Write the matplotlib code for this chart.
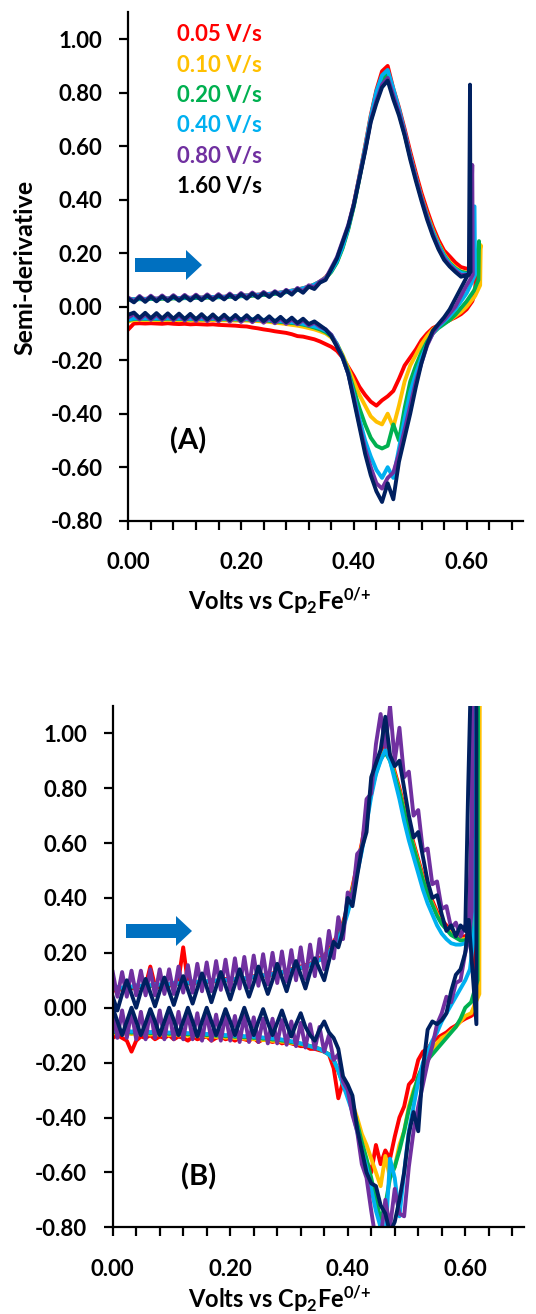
import matplotlib
matplotlib.use('Agg')
import matplotlib.pyplot as plt
import matplotlib.patches as mpatches
from matplotlib.ticker import FixedLocator, MultipleLocator, FormatStrFormatter

plt.rcParams['font.family'] = 'Lato'
plt.rcParams['font.weight'] = 'bold'
plt.rcParams['mathtext.fontset'] = 'custom'
plt.rcParams['mathtext.rm'] = 'Lato:bold'
plt.rcParams['mathtext.default'] = 'rm'

# ---------------------------------------------------------------- data
RATES = ['0.05 V/s', '0.10 V/s', '0.20 V/s', '0.40 V/s', '0.80 V/s', '1.60 V/s']
LINE_COLORS = ['#FF0000', '#FFC000', '#00B050', '#00B0F0', '#7030A0', '#002060']
TEXT_COLORS = ['#FF0000', '#FFC000', '#00B050', '#00B0F0', '#7030A0', '#000000']

# panel A: potential grid (V), forward scan and reverse scan (both listed low -> high V)
VOLTS_A = [0.00, 0.01, 0.02, 0.03, 0.04, 0.05, 0.06, 0.07, 0.08, 0.09,
           0.10, 0.11, 0.12, 0.13, 0.14, 0.15, 0.16, 0.17, 0.18, 0.19,
           0.20, 0.21, 0.22, 0.23, 0.24, 0.25, 0.26, 0.27, 0.28, 0.29,
           0.30, 0.31, 0.32, 0.33, 0.34, 0.35, 0.36, 0.37, 0.38, 0.39,
           0.40, 0.41, 0.42, 0.43, 0.44, 0.45, 0.46, 0.47, 0.48, 0.49,
           0.50, 0.51, 0.52, 0.53, 0.54, 0.55, 0.56, 0.57, 0.58, 0.59, 0.60]

A_FWD_RED = [0.030, 0.028, 0.030, 0.029, 0.031, 0.030, 0.032, 0.031, 0.033, 0.032,
             0.034, 0.033, 0.035, 0.034, 0.036, 0.036, 0.037, 0.037, 0.039, 0.039,
             0.041, 0.042, 0.043, 0.045, 0.046, 0.048, 0.050, 0.053, 0.056, 0.060,
             0.064, 0.069, 0.075, 0.083, 0.094, 0.110, 0.135, 0.170, 0.225, 0.295,
             0.385, 0.490, 0.600, 0.715, 0.810, 0.880, 0.900, 0.815, 0.745, 0.665,
             0.580, 0.500, 0.425, 0.360, 0.300, 0.250, 0.210, 0.188, 0.165, 0.148, 0.142]
A_FWD_YEL = [0.028, 0.027, 0.029, 0.028, 0.030, 0.029, 0.031, 0.030, 0.032, 0.031,
             0.033, 0.032, 0.034, 0.033, 0.035, 0.035, 0.036, 0.036, 0.038, 0.038,
             0.040, 0.041, 0.042, 0.044, 0.045, 0.047, 0.049, 0.052, 0.055, 0.059,
             0.063, 0.068, 0.074, 0.082, 0.093, 0.108, 0.132, 0.168, 0.222, 0.292,
             0.380, 0.485, 0.592, 0.705, 0.795, 0.860, 0.875, 0.800, 0.730, 0.650,
             0.565, 0.485, 0.410, 0.345, 0.287, 0.237, 0.197, 0.167, 0.147, 0.132, 0.127]
A_FWD_GRN = [0.027, 0.026, 0.028, 0.027, 0.029, 0.028, 0.030, 0.029, 0.031, 0.030,
             0.032, 0.031, 0.033, 0.032, 0.034, 0.034, 0.035, 0.035, 0.037, 0.037,
             0.039, 0.040, 0.041, 0.043, 0.044, 0.046, 0.048, 0.051, 0.054, 0.058,
             0.062, 0.067, 0.073, 0.081, 0.092, 0.106, 0.130, 0.165, 0.218, 0.288,
             0.375, 0.480, 0.588, 0.700, 0.790, 0.850, 0.868, 0.795, 0.725, 0.645,
             0.560, 0.480, 0.405, 0.340, 0.282, 0.233, 0.193, 0.163, 0.143, 0.130, 0.126]
A_FWD_CYN = [0.029, 0.028, 0.030, 0.029, 0.031, 0.030, 0.032, 0.031, 0.033, 0.032,
             0.034, 0.033, 0.035, 0.034, 0.036, 0.036, 0.037, 0.037, 0.039, 0.039,
             0.041, 0.042, 0.043, 0.045, 0.046, 0.048, 0.050, 0.053, 0.056, 0.060,
             0.064, 0.069, 0.075, 0.083, 0.094, 0.108, 0.134, 0.170, 0.224, 0.294,
             0.382, 0.488, 0.596, 0.710, 0.805, 0.865, 0.885, 0.815, 0.740, 0.655,
             0.565, 0.482, 0.405, 0.338, 0.280, 0.230, 0.190, 0.160, 0.140, 0.126, 0.122]
A_FWD_PUR = [0.034, 0.020, 0.040, 0.022, 0.041, 0.024, 0.042, 0.025, 0.043, 0.026,
             0.044, 0.027, 0.045, 0.028, 0.046, 0.029, 0.047, 0.030, 0.049, 0.032,
             0.051, 0.034, 0.053, 0.037, 0.055, 0.040, 0.058, 0.044, 0.063, 0.049,
             0.070, 0.057, 0.080, 0.072, 0.095, 0.105, 0.145, 0.185, 0.245, 0.305,
             0.385, 0.485, 0.585, 0.695, 0.770, 0.830, 0.855, 0.790, 0.725, 0.650,
             0.560, 0.480, 0.405, 0.335, 0.272, 0.222, 0.182, 0.155, 0.135, 0.118, 0.120]
A_FWD_NAV = [0.030, 0.016, 0.036, 0.018, 0.037, 0.020, 0.038, 0.021, 0.039, 0.022,
             0.040, 0.023, 0.041, 0.024, 0.042, 0.025, 0.043, 0.027, 0.045, 0.028,
             0.047, 0.030, 0.049, 0.033, 0.051, 0.036, 0.055, 0.040, 0.060, 0.045,
             0.066, 0.052, 0.075, 0.066, 0.090, 0.100, 0.140, 0.180, 0.240, 0.300,
             0.380, 0.480, 0.580, 0.690, 0.760, 0.820, 0.845, 0.775, 0.715, 0.640,
             0.550, 0.470, 0.395, 0.325, 0.265, 0.215, 0.175, 0.150, 0.130, 0.112, 0.118]

A_REV_RED = [-0.085, -0.063, -0.062, -0.063, -0.062, -0.063, -0.064, -0.062, -0.064, -0.065,
             -0.064, -0.066, -0.065, -0.066, -0.067, -0.066, -0.068, -0.069, -0.070, -0.071,
             -0.073, -0.074, -0.078, -0.081, -0.085, -0.088, -0.092, -0.095, -0.098, -0.103,
             -0.110, -0.112, -0.117, -0.122, -0.130, -0.140, -0.150, -0.165, -0.190, -0.225,
             -0.260, -0.300, -0.330, -0.355, -0.370, -0.350, -0.335, -0.315, -0.270, -0.220,
             -0.190, -0.160, -0.125, -0.100, -0.080, -0.070, -0.060, -0.050, -0.040, -0.028, -0.010]
A_REV_YEL = [-0.055, -0.050, -0.049, -0.050, -0.049, -0.050, -0.050, -0.049, -0.050, -0.050,
             -0.050, -0.051, -0.050, -0.051, -0.051, -0.050, -0.051, -0.051, -0.051, -0.052,
             -0.052, -0.052, -0.053, -0.054, -0.055, -0.057, -0.060, -0.062, -0.065, -0.068,
             -0.071, -0.075, -0.080, -0.085, -0.092, -0.100, -0.115, -0.140, -0.180, -0.230,
             -0.280, -0.330, -0.370, -0.410, -0.430, -0.440, -0.400, -0.450, -0.370, -0.280,
             -0.220, -0.180, -0.140, -0.110, -0.085, -0.070, -0.060, -0.050, -0.035, -0.020, 0.000]
A_REV_GRN = [-0.050, -0.046, -0.045, -0.046, -0.045, -0.046, -0.046, -0.045, -0.046, -0.046,
             -0.046, -0.047, -0.046, -0.047, -0.047, -0.046, -0.047, -0.047, -0.047, -0.048,
             -0.048, -0.048, -0.049, -0.050, -0.051, -0.053, -0.055, -0.057, -0.059, -0.061,
             -0.063, -0.067, -0.072, -0.078, -0.085, -0.095, -0.110, -0.140, -0.185, -0.240,
             -0.310, -0.380, -0.440, -0.490, -0.520, -0.530, -0.520, -0.440, -0.500, -0.380,
             -0.280, -0.220, -0.170, -0.130, -0.100, -0.080, -0.065, -0.050, -0.030, -0.005, 0.020]
A_REV_CYN = [-0.048, -0.044, -0.043, -0.044, -0.043, -0.044, -0.044, -0.043, -0.044, -0.044,
             -0.044, -0.045, -0.044, -0.045, -0.045, -0.044, -0.045, -0.045, -0.045, -0.046,
             -0.046, -0.046, -0.047, -0.048, -0.049, -0.050, -0.052, -0.054, -0.056, -0.058,
             -0.060, -0.064, -0.069, -0.074, -0.080, -0.090, -0.105, -0.140, -0.190, -0.250,
             -0.330, -0.420, -0.500, -0.560, -0.610, -0.640, -0.600, -0.640, -0.530, -0.420,
             -0.320, -0.250, -0.190, -0.140, -0.100, -0.075, -0.055, -0.035, -0.010, 0.020, 0.050]
A_REV_PUR = [-0.040, -0.028, -0.048, -0.029, -0.049, -0.030, -0.050, -0.031, -0.051, -0.032,
             -0.052, -0.033, -0.053, -0.034, -0.054, -0.035, -0.055, -0.036, -0.056, -0.037,
             -0.057, -0.038, -0.058, -0.040, -0.060, -0.042, -0.062, -0.044, -0.064, -0.047,
             -0.066, -0.050, -0.070, -0.060, -0.075, -0.085, -0.105, -0.145, -0.190, -0.250,
             -0.340, -0.440, -0.530, -0.600, -0.660, -0.680, -0.640, -0.620, -0.550, -0.460,
             -0.370, -0.280, -0.210, -0.145, -0.100, -0.070, -0.050, -0.025, 0.000, 0.040, 0.080]
A_REV_NAV = [-0.030, -0.022, -0.042, -0.023, -0.043, -0.024, -0.044, -0.025, -0.045, -0.026,
             -0.046, -0.027, -0.047, -0.028, -0.048, -0.029, -0.049, -0.030, -0.050, -0.031,
             -0.051, -0.032, -0.052, -0.034, -0.054, -0.036, -0.056, -0.038, -0.058, -0.041,
             -0.061, -0.045, -0.065, -0.055, -0.070, -0.085, -0.110, -0.150, -0.190, -0.250,
             -0.350, -0.450, -0.550, -0.630, -0.690, -0.730, -0.660, -0.720, -0.580, -0.490,
             -0.400, -0.300, -0.210, -0.140, -0.090, -0.065, -0.040, -0.010, 0.030, 0.070, 0.110]

# switching-potential excursions beyond 0.60 V (forward end -> reverse start)
A_TURN_X = [[0.610, 0.617, 0.615, 0.610],
            [0.610, 0.620, 0.625, 0.624, 0.615],
            [0.610, 0.618, 0.622, 0.621, 0.613],
            [0.608, 0.614, 0.615, 0.609],
            [0.606, 0.610, 0.611, 0.606],
            [0.604, 0.606, 0.607, 0.603]]
A_TURN_Y = [[0.140, 0.170, 0.050, 0.020],
            [0.130, 0.170, 0.230, 0.080, 0.040],
            [0.130, 0.170, 0.245, 0.100, 0.060],
            [0.125, 0.375, 0.120, 0.090],
            [0.120, 0.530, 0.120, 0.100],
            [0.120, 0.830, 0.130, 0.120]]

# panel B: potential grid in mV
VOLTS_B_MV = [0, 8, 16, 24, 32, 40, 48, 56, 64, 72, 80, 88, 96, 104, 112, 120, 128, 136, 144, 152,
              160, 168, 176, 184, 192, 200, 208, 216, 224, 232, 240, 248, 256, 264, 272, 280, 288, 296,
              304, 312, 320, 328, 336, 344, 352, 360, 368, 376, 384, 392, 400, 408, 416, 424, 432, 440,
              448, 456, 464, 472, 480, 488, 496, 504, 512, 520, 528, 536, 544, 552, 560, 568, 576, 584,
              592, 600]

B_FWD_RED = [0.06, 0.07, 0.065, 0.08, 0.07, 0.075, 0.075, 0.08, 0.15, 0.08,
             0.075, 0.085, 0.08, 0.085, 0.10, 0.22, 0.09, 0.085, 0.095, 0.09,
             0.095, 0.10, 0.095, 0.10, 0.105, 0.10, 0.105, 0.11, 0.105, 0.11,
             0.115, 0.115, 0.12, 0.12, 0.125, 0.13, 0.13, 0.135, 0.14, 0.145,
             0.15, 0.155, 0.16, 0.17, 0.18, 0.19, 0.21, 0.24, 0.27, 0.31,
             0.37, 0.44, 0.52, 0.60, 0.70, 0.80, 0.87, 0.92, 0.96, 0.92,
             0.86, 0.80, 0.73, 0.66, 0.60, 0.54, 0.48, 0.43, 0.39, 0.35,
             0.32, 0.30, 0.28, 0.27, 0.26, 0.26]
B_FWD_YEL = [0.07, 0.075, 0.07, 0.08, 0.075, 0.08, 0.078, 0.082, 0.08, 0.085,
             0.082, 0.087, 0.085, 0.09, 0.088, 0.092, 0.09, 0.095, 0.093, 0.097,
             0.095, 0.10, 0.098, 0.102, 0.10, 0.105, 0.103, 0.108, 0.106, 0.11,
             0.112, 0.115, 0.117, 0.12, 0.122, 0.125, 0.128, 0.132, 0.136, 0.14,
             0.145, 0.15, 0.156, 0.165, 0.175, 0.185, 0.205, 0.23, 0.26, 0.30,
             0.36, 0.43, 0.51, 0.59, 0.69, 0.79, 0.86, 0.91, 0.94, 0.91,
             0.85, 0.79, 0.72, 0.65, 0.59, 0.53, 0.47, 0.42, 0.38, 0.34,
             0.31, 0.29, 0.27, 0.26, 0.25, 0.25]
B_FWD_GRN = [0.068, 0.072, 0.07, 0.078, 0.074, 0.079, 0.077, 0.081, 0.079, 0.084,
             0.081, 0.086, 0.084, 0.089, 0.087, 0.091, 0.089, 0.094, 0.092, 0.096,
             0.094, 0.099, 0.097, 0.101, 0.099, 0.104, 0.102, 0.107, 0.105, 0.109,
             0.111, 0.114, 0.116, 0.119, 0.121, 0.124, 0.127, 0.131, 0.135, 0.139,
             0.144, 0.149, 0.155, 0.164, 0.174, 0.184, 0.203, 0.228, 0.258, 0.298,
             0.355, 0.425, 0.505, 0.585, 0.685, 0.785, 0.855, 0.905, 0.93, 0.90,
             0.845, 0.785, 0.715, 0.645, 0.585, 0.525, 0.465, 0.415, 0.375, 0.335,
             0.305, 0.285, 0.265, 0.255, 0.245, 0.245]
B_FWD_CYN = [0.072, 0.076, 0.073, 0.08, 0.077, 0.082, 0.079, 0.084, 0.082, 0.086,
             0.084, 0.088, 0.086, 0.091, 0.089, 0.093, 0.091, 0.096, 0.094, 0.098,
             0.096, 0.10, 0.099, 0.103, 0.101, 0.106, 0.104, 0.108, 0.107, 0.111,
             0.113, 0.116, 0.118, 0.121, 0.123, 0.126, 0.129, 0.133, 0.137, 0.141,
             0.146, 0.151, 0.157, 0.165, 0.174, 0.183, 0.20, 0.222, 0.25, 0.29,
             0.345, 0.41, 0.49, 0.57, 0.67, 0.77, 0.85, 0.90, 0.94, 0.90,
             0.83, 0.76, 0.68, 0.61, 0.55, 0.49, 0.43, 0.38, 0.34, 0.30,
             0.27, 0.25, 0.235, 0.23, 0.23, 0.235]
B_FWD_PUR = [0.13, 0.04, 0.13, 0.04, 0.135, 0.045, 0.135, 0.045, 0.14, 0.045,
             0.14, 0.05, 0.14, 0.05, 0.15, 0.055, 0.155, 0.055, 0.16, 0.06,
             0.165, 0.06, 0.17, 0.065, 0.175, 0.065, 0.18, 0.07, 0.185, 0.075,
             0.19, 0.08, 0.195, 0.085, 0.20, 0.09, 0.205, 0.095, 0.21, 0.10,
             0.22, 0.105, 0.23, 0.115, 0.25, 0.14, 0.28, 0.18, 0.33, 0.25,
             0.42, 0.40, 0.56, 0.58, 0.76, 0.78, 0.96, 1.07, 0.95, 1.10,
             0.90, 1.02, 0.84, 0.86, 0.70, 0.72, 0.57, 0.58, 0.45, 0.46,
             0.36, 0.37, 0.29, 0.31, 0.26, 0.30]
B_FWD_NAV = [0.04, -0.01, 0.05, 0.10, 0.05, 0.00, 0.06, 0.105, 0.055, 0.005,
             0.06, 0.11, 0.06, 0.01, 0.065, 0.115, 0.065, 0.015, 0.07, 0.125,
             0.075, 0.02, 0.075, 0.13, 0.08, 0.03, 0.085, 0.14, 0.09, 0.04,
             0.09, 0.15, 0.10, 0.05, 0.10, 0.16, 0.11, 0.06, 0.12, 0.17,
             0.12, 0.07, 0.13, 0.18, 0.14, 0.10, 0.17, 0.24, 0.22, 0.28,
             0.40, 0.37, 0.48, 0.58, 0.64, 0.84, 0.89, 0.94, 1.06, 0.92,
             0.88, 0.90, 0.80, 0.70, 0.62, 0.64, 0.55, 0.46, 0.40, 0.41,
             0.34, 0.28, 0.30, 0.26, 0.30, 0.28]

B_REV_RED = [-0.11, -0.10, -0.11, -0.12, -0.16, -0.12, -0.105, -0.11, -0.10, -0.115,
             -0.105, -0.11, -0.10, -0.115, -0.105, -0.11, -0.12, -0.105, -0.115, -0.11,
             -0.105, -0.12, -0.11, -0.105, -0.115, -0.11, -0.12, -0.11, -0.115, -0.12,
             -0.11, -0.125, -0.115, -0.12, -0.125, -0.12, -0.13, -0.125, -0.13, -0.135,
             -0.14, -0.14, -0.15, -0.15, -0.155, -0.16, -0.17, -0.22, -0.33, -0.27,
             -0.31, -0.38, -0.42, -0.50, -0.56, -0.60, -0.50, -0.57, -0.52, -0.55,
             -0.47, -0.40, -0.36, -0.28, -0.26, -0.19, -0.16, -0.15, -0.125, -0.11,
             -0.10, -0.09, -0.075, -0.065, -0.05, -0.04]
B_REV_YEL = [-0.095, -0.09, -0.095, -0.092, -0.096, -0.093, -0.097, -0.094, -0.098, -0.095,
             -0.099, -0.096, -0.10, -0.097, -0.101, -0.098, -0.102, -0.10, -0.104, -0.101,
             -0.105, -0.103, -0.107, -0.105, -0.109, -0.107, -0.111, -0.109, -0.113, -0.111,
             -0.115, -0.114, -0.118, -0.117, -0.121, -0.12, -0.124, -0.124, -0.128, -0.13,
             -0.133, -0.136, -0.14, -0.145, -0.15, -0.16, -0.17, -0.19, -0.23, -0.27,
             -0.31, -0.35, -0.40, -0.46, -0.50, -0.55, -0.60, -0.65, -0.54, -0.62,
             -0.58, -0.50, -0.45, -0.36, -0.30, -0.26, -0.21, -0.17, -0.15, -0.13,
             -0.11, -0.10, -0.085, -0.07, -0.05, -0.03]
B_REV_GRN = [-0.09, -0.086, -0.09, -0.087, -0.091, -0.088, -0.092, -0.089, -0.093, -0.09,
             -0.094, -0.091, -0.095, -0.092, -0.096, -0.093, -0.097, -0.095, -0.099, -0.096,
             -0.10, -0.098, -0.102, -0.10, -0.104, -0.102, -0.106, -0.104, -0.108, -0.106,
             -0.11, -0.109, -0.113, -0.112, -0.116, -0.116, -0.12, -0.121, -0.125, -0.128,
             -0.131, -0.135, -0.14, -0.145, -0.15, -0.16, -0.17, -0.19, -0.23, -0.28,
             -0.32, -0.36, -0.42, -0.49, -0.55, -0.62, -0.70, -0.77, -0.72, -0.62,
             -0.58, -0.52, -0.45, -0.37, -0.31, -0.25, -0.21, -0.19, -0.17, -0.15,
             -0.13, -0.11, -0.09, -0.07, -0.04, 0.00]
B_REV_CYN = [-0.085, -0.082, -0.086, -0.083, -0.087, -0.084, -0.088, -0.085, -0.089, -0.086,
             -0.09, -0.087, -0.091, -0.088, -0.092, -0.089, -0.093, -0.091, -0.095, -0.092,
             -0.096, -0.094, -0.098, -0.096, -0.10, -0.098, -0.102, -0.10, -0.104, -0.102,
             -0.106, -0.105, -0.109, -0.108, -0.112, -0.112, -0.116, -0.118, -0.122, -0.126,
             -0.13, -0.134, -0.14, -0.145, -0.15, -0.16, -0.17, -0.19, -0.23, -0.28,
             -0.33, -0.38, -0.45, -0.52, -0.58, -0.66, -0.74, -0.80, -0.84, -0.55,
             -0.62, -0.76, -0.60, -0.45, -0.36, -0.27, -0.20, -0.16, -0.12, -0.09,
             -0.05, -0.02, 0.01, 0.04, 0.07, 0.10]
B_REV_PUR = [-0.01, -0.11, -0.01, -0.11, -0.015, -0.115, -0.015, -0.115, -0.01, -0.11,
             -0.01, -0.115, -0.015, -0.115, -0.015, -0.115, -0.02, -0.115, -0.02, -0.12,
             -0.02, -0.12, -0.025, -0.12, -0.025, -0.12, -0.03, -0.125, -0.03, -0.125,
             -0.035, -0.125, -0.04, -0.13, -0.04, -0.13, -0.045, -0.135, -0.05, -0.14,
             -0.055, -0.145, -0.06, -0.15, -0.07, -0.16, -0.10, -0.19, -0.17, -0.27,
             -0.30, -0.39, -0.45, -0.57, -0.62, -0.74, -0.85, -0.84, -0.70, -0.80,
             -0.66, -0.75, -0.76, -0.58, -0.45, -0.36, -0.28, -0.20, -0.14, -0.06,
             -0.02, 0.04, 0.02, 0.09, 0.10, 0.20]
B_REV_NAV = [0.00, -0.05, -0.10, -0.05, 0.00, -0.05, -0.10, -0.055, -0.005, -0.05,
             -0.10, -0.05, 0.00, -0.045, -0.10, -0.05, 0.00, -0.05, -0.105, -0.05,
             0.00, -0.05, -0.10, -0.055, -0.005, -0.05, -0.10, -0.05, 0.00, -0.05,
             -0.10, -0.05, -0.005, -0.055, -0.10, -0.055, -0.01, -0.06, -0.105, -0.06,
             -0.02, -0.07, -0.10, -0.12, -0.08, -0.05, -0.09, -0.11, -0.15, -0.25,
             -0.28, -0.32, -0.44, -0.52, -0.60, -0.64, -0.65, -0.72, -0.75, -0.82,
             -0.78, -0.70, -0.60, -0.46, -0.38, -0.45, -0.22, -0.08, -0.05, -0.06,
             -0.045, -0.02, 0.06, 0.12, 0.14, 0.20]

B_TURN_X = [[0.610, 0.616, 0.618, 0.616, 0.610],
            [0.610, 0.622, 0.625, 0.624, 0.610],
            [0.610, 0.620, 0.622, 0.621, 0.610],
            [0.608, 0.617, 0.619, 0.617, 0.608],
            [0.606, 0.611, 0.613, 0.611, 0.606],
            [0.605, 0.614, 0.619, 0.619, 0.606]]
B_TURN_Y = [[0.28, 0.60, 1.60, -0.02, -0.03],
            [0.27, 0.55, 1.60, 0.05, -0.02],
            [0.27, 0.80, 1.60, 0.10, 0.02],
            [0.25, 0.60, 1.60, 0.30, 0.14],
            [0.30, 0.70, 1.60, 0.35, 0.25],
            [0.80, 1.60, 1.60, -0.06, 0.32]]

A_FWD = [A_FWD_RED, A_FWD_YEL, A_FWD_GRN, A_FWD_CYN, A_FWD_PUR, A_FWD_NAV]
A_REV = [A_REV_RED, A_REV_YEL, A_REV_GRN, A_REV_CYN, A_REV_PUR, A_REV_NAV]
B_FWD = [B_FWD_RED, B_FWD_YEL, B_FWD_GRN, B_FWD_CYN, B_FWD_PUR, B_FWD_NAV]
B_REV = [B_REV_RED, B_REV_YEL, B_REV_GRN, B_REV_CYN, B_REV_PUR, B_REV_NAV]
VOLTS_B = [v / 1000 for v in VOLTS_B_MV]

for s in A_FWD + A_REV:
    assert len(s) == len(VOLTS_A), len(s)
for s in B_FWD + B_REV:
    assert len(s) == len(VOLTS_B), len(s)

W, H = 536, 1314


def fx(px):
    return px / W


def fy(py):
    return 1 - py / H


def cv_loop(grid, fwd, tx, ty, rev):
    """Forward sweep, switching excursion, then reverse sweep back to 0 V."""
    x = list(grid) + tx + list(grid)[::-1]
    y = list(fwd) + ty + list(rev)[::-1]
    return x, y


def add_arrow(fig, x0, x1, yc):
    shaft, head, head_len = 7, 15, 16
    pts = [(x0, yc - shaft), (x1 - head_len, yc - shaft), (x1 - head_len, yc - head),
           (x1, yc), (x1 - head_len, yc + head), (x1 - head_len, yc + shaft), (x0, yc + shaft)]
    poly = mpatches.Polygon([(fx(a), fy(b)) for a, b in pts], closed=True,
                            facecolor='#0070C0', edgecolor='none', transform=fig.transFigure)
    fig.add_artist(poly)


def style_axes(ax):
    ax.set_xlim(0, 0.70)
    ax.set_ylim(-0.80, 1.10)
    ax.spines['top'].set_visible(False)
    ax.spines['right'].set_visible(False)
    for side in ('left', 'bottom'):
        ax.spines[side].set_linewidth(1.6)
    ax.xaxis.set_major_locator(FixedLocator([0.0, 0.2, 0.4, 0.6]))
    ax.xaxis.set_minor_locator(MultipleLocator(0.04))
    ax.yaxis.set_major_locator(FixedLocator([-0.8, -0.6, -0.4, -0.2, 0.0, 0.2, 0.4, 0.6, 0.8, 1.0]))
    ax.xaxis.set_major_formatter(FormatStrFormatter('%.2f'))
    ax.yaxis.set_major_formatter(FormatStrFormatter('%.2f'))
    ax.tick_params(which='both', direction='out', length=6.5, width=1.6, labelsize=16)
    ax.tick_params(axis='x', pad=16)
    ax.tick_params(axis='y', pad=12)
    ax.tick_params(axis='y', which='minor', left=False)


fig = plt.figure(figsize=(W / 100, H / 100), dpi=100, facecolor='white')
ax_a = fig.add_axes([fx(128.3), fy(520.7), (523 - 128.3) / W, (520.7 - 12.4) / H])
ax_b = fig.add_axes([fx(112.7), fy(1227.3), (524 - 112.7) / W, (1227.3 - 705.8) / H])

for i in range(6):
    x, y = cv_loop(VOLTS_A, A_FWD[i], A_TURN_X[i], A_TURN_Y[i], A_REV[i])
    ax_a.plot(x, y, color=LINE_COLORS[i], lw=2.8)
    x, y = cv_loop(VOLTS_B, B_FWD[i], B_TURN_X[i], B_TURN_Y[i], B_REV[i])
    ax_b.plot(x, y, color=LINE_COLORS[i], lw=2.8)

style_axes(ax_a)
style_axes(ax_b)

# rate legend (coloured text)
for i, (label, c) in enumerate(zip(RATES, TEXT_COLORS)):
    fig.text(fx(177), fy(35 + 30.3 * i), label, color=c, fontsize=16, ha='left', va='center')

xlabel = 'Volts vs Cp$_2$Fe$^{0/{+}}$'
fig.text(fx(25), fy(267), 'Semi-derivative', rotation=90, ha='center', va='center', fontsize=18)
fig.text(fx(280), fy(601), xlabel, ha='center', va='center', fontsize=17)
fig.text(fx(280), fy(1299), xlabel, ha='center', va='center', fontsize=17)
fig.text(fx(170), fy(441), '(A)', ha='left', va='center', fontsize=21)
fig.text(fx(181), fy(1177), '(B)', ha='left', va='center', fontsize=21)

add_arrow(fig, 135, 202, 265)
add_arrow(fig, 126, 192, 931)

fig.savefig('out.png', dpi=100, facecolor='white')
plt.close(fig)
